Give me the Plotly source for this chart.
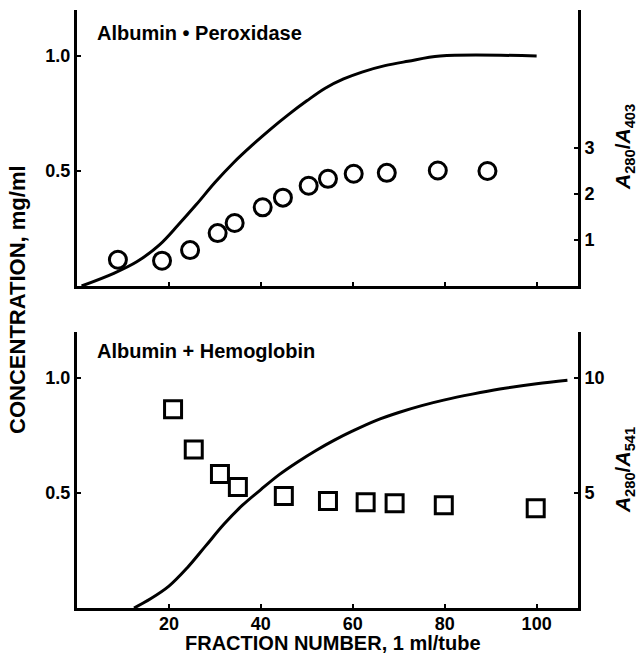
import plotly.graph_objects as go

# ---- data ----
# Top panel: Albumin • Peroxidase
top_curve_x = [1, 8, 13, 18, 22, 26, 30, 34, 38, 42, 46, 50, 54, 58, 62, 67, 72, 79, 100]
top_curve_conc = [0, 0.055, 0.105, 0.18, 0.265, 0.355, 0.45, 0.535, 0.61, 0.68, 0.745, 0.805, 0.86, 0.90, 0.93, 0.958, 0.977, 1.0, 1.0]
top_ratio_x = [8.9, 18.5, 24.6, 30.6, 34.3, 40.4, 44.8, 50.4, 54.6, 60.2, 67.4, 78.5, 89.3]
top_ratio = [0.57, 0.55, 0.78, 1.15, 1.37, 1.71, 1.92, 2.18, 2.33, 2.44, 2.46, 2.51, 2.50]

# Bottom panel: Albumin + Hemoglobin
bot_curve_x = [12.4, 16, 20, 24, 28, 32, 36, 40, 44, 48, 52, 56, 60, 65, 70, 75, 80, 86, 92, 100, 106.7]
bot_curve_conc = [0, 0.04, 0.095, 0.175, 0.27, 0.365, 0.447, 0.515, 0.58, 0.635, 0.685, 0.73, 0.77, 0.815, 0.85, 0.88, 0.905, 0.93, 0.952, 0.975, 0.99]
bot_ratio_x = [20.9, 25.4, 31.1, 35, 45, 54.6, 62.8, 69.1, 79.8, 99.8]
bot_ratio = [8.64, 6.89, 5.83, 5.26, 4.87, 4.65, 4.60, 4.56, 4.47, 4.34]

x_ticks = [20, 40, 60, 80, 100]
conc_ticks = [0.5, 1.0]
conc_ticktext = ["0.5", "1.0"]
top_ratio_ticks = [1, 2, 3]
bot_ratio_ticks = [5, 10]

FONT = "Liberation Sans, Arial, sans-serif"
LW = 3

fig = go.Figure()
fig.add_trace(go.Scatter(x=top_curve_x, y=top_curve_conc, mode="lines",
                         line=dict(color="black", width=LW, shape="spline", smoothing=1.0),
                         xaxis="x", yaxis="y", showlegend=False))
fig.add_trace(go.Scatter(x=top_ratio_x, y=top_ratio, mode="markers",
                         marker=dict(symbol="circle-open", size=17, color="black", line=dict(width=3)),
                         xaxis="x", yaxis="y2", showlegend=False))
fig.add_trace(go.Scatter(x=bot_curve_x, y=bot_curve_conc, mode="lines",
                         line=dict(color="black", width=LW, shape="spline", smoothing=1.0),
                         xaxis="x2", yaxis="y3", showlegend=False))
fig.add_trace(go.Scatter(x=bot_ratio_x, y=bot_ratio, mode="markers",
                         marker=dict(symbol="square-open", size=17, color="black", line=dict(width=3)),
                         xaxis="x2", yaxis="y4", showlegend=False))

top_dom = [0.5385, 1.0]
bot_dom = [0.0, 0.4615]

xcommon = dict(range=[0, 109], showline=True, linewidth=LW, linecolor="#000000", showgrid=False,
               zeroline=False, tickvals=x_ticks, ticks="inside", ticklen=4, tickwidth=2,
               tickcolor="#000000", layer="above traces",
               tickfont=dict(family=FONT, size=18, color="black", weight="bold"))
ycommon = dict(showline=True, linewidth=LW, linecolor="#000000", showgrid=False, zeroline=False,
               ticks="inside", ticklen=4, tickwidth=2, tickcolor="#000000", layer="above traces",
               tickfont=dict(family=FONT, size=18, color="black", weight="bold"))

fig.update_layout(
    width=637, height=656,
    margin=dict(l=77, r=59, t=10, b=48),
    paper_bgcolor="white", plot_bgcolor="white",
    font=dict(family=FONT, color="black"),
    xaxis=dict(domain=[0, 1], anchor="y", showticklabels=False, **xcommon),
    yaxis=dict(domain=top_dom, anchor="x", range=[0, 1.2], tickvals=conc_ticks, ticktext=conc_ticktext, **ycommon),
    yaxis2=dict(overlaying="y", side="right", anchor="x", range=[0, 6], tickvals=top_ratio_ticks, **ycommon),
    xaxis2=dict(domain=[0, 1], anchor="y3", ticklabelstandoff=-3, **xcommon),
    yaxis3=dict(domain=bot_dom, anchor="x2", range=[0, 1.2], tickvals=conc_ticks, ticktext=conc_ticktext, **ycommon),
    yaxis4=dict(overlaying="y3", side="right", anchor="x2", range=[0, 12], tickvals=bot_ratio_ticks, **ycommon),
)

ann = [
    dict(text="Albumin • Peroxidase", x=0.036, y=0.9615, xanchor="left", yanchor="middle", size=20),
    dict(text="Albumin + Hemoglobin", x=0.036, y=0.4298, xanchor="left", yanchor="middle", size=20),
    dict(text="CONCENTRATION, mg/ml", x=-0.12, y=0.515, xanchor="center", yanchor="middle", size=22, angle=-90),
    dict(text="FRACTION NUMBER, 1 ml/tube", x=0.51, y=-0.059, xanchor="center", yanchor="middle", size=20),
    dict(text="<i>A</i><sub>280</sub>/<i>A</i><sub>403</sub>", x=1.092, y=0.771, xanchor="center", yanchor="middle", size=21, angle=-90),
    dict(text="<i>A</i><sub>280</sub>/<i>A</i><sub>541</sub>", x=1.092, y=0.2308, xanchor="center", yanchor="middle", size=21, angle=-90),
]
for a in ann:
    fig.add_annotation(text=a["text"], x=a["x"], y=a["y"], xref="paper", yref="paper",
                       xanchor=a["xanchor"], yanchor=a["yanchor"], showarrow=False,
                       textangle=a.get("angle", 0),
                       font=dict(family=FONT, size=a["size"], color="black", weight="bold"))

fig.write_html("out.html", config={"displayModeBar": False},
               post_script="document.body.style.margin='0';")
